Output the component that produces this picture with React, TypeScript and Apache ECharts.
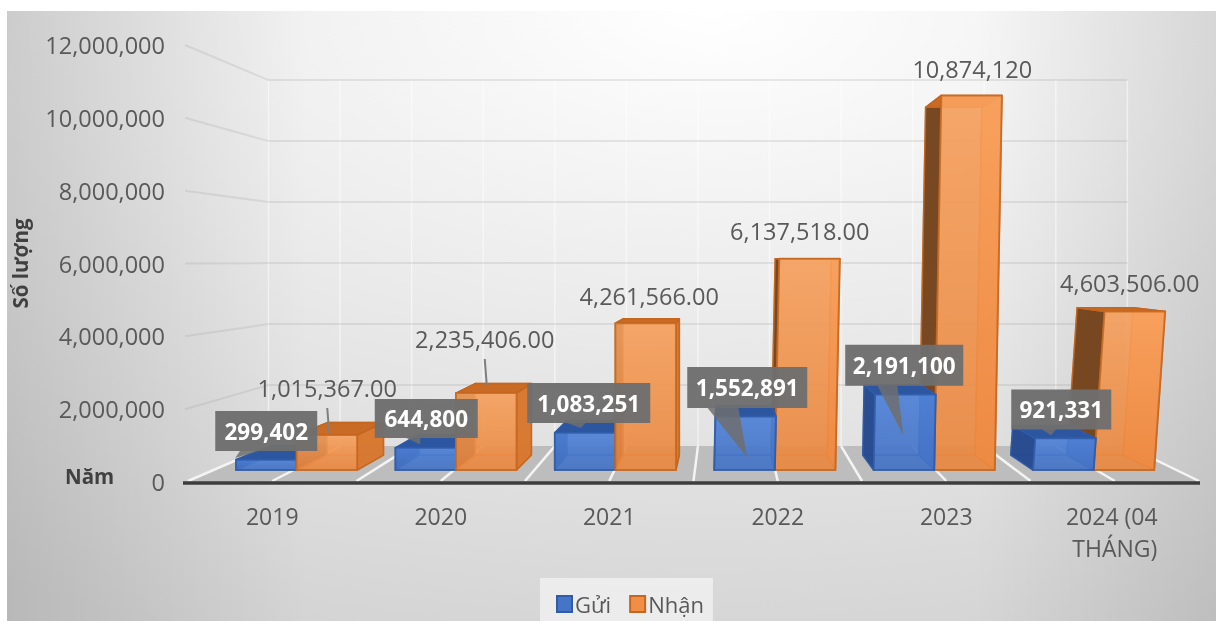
import React, { useEffect, useRef } from "react";
import * as echarts from "echarts";

// ---- data ----
const categories = ["2019", "2020", "2021", "2022", "2023", "2024 (04 THÁNG)"];
const sent = [299402, 644800, 1083251, 1552891, 2191100, 921331];
const received = [1015367, 2235406, 4261566, 6137518, 10874120, 4603506];
const receivedLabels = ["1,015,367.00", "2,235,406.00", "4,261,566.00", "6,137,518.00", "10,874,120", "4,603,506.00"];
const wallTicks = [0, 2000000, 4000000, 6000000, 8000000, 10000000, 12000000];

// ---- projection / layout (the image is a tilted 3D scene) ----
const VX = 723, VY = 261;      // vanishing point
const S_FRONT = 0.946, S_BACK = 0.878, S_WALL = 0.8375, S_WALL_X = 0.8495;
const BAR_FRAC = 0.38;         // bar width, in bands
const LEAN = [0, 0, 0, 2.1, 1.9, 6.9]; // px of horizontal lean per 100px of height
const BLUE_BOX: number[][] = [[-6, -40], [-14.5, -40], [-20.5, -39.5], [-30.5, -38], [-42, -37], [-53.5, -39]];
const BLUE_SIZE: number[][] = [[102, 40], [103, 39], [123, 40], [120, 41], [118, 41], [100, 40]];
const BLUE_PTR: number[][] = [[-26, -6, -31, 27], [-21, -6, -6, 26], [-23, -3, -8, 25], [-40, -9, 0, 70], [-27, -7, -1, 70], [-20, -5, -10, 26]];
const ORANGE_LABEL: number[][] = [[55, -57], [44, -61.6], [40, -31], [22, -27.5], [26, -17], [15, -31]];
const ORANGE_LEADER = [true, true, false, false, false, false];

const FONT = "'Open Sans', 'Noto Sans', sans-serif";
const TEXT = "#595959";
const BLUE = { edge: "#2F5BA8", front: ["#5286DD", "#4675C8"], top: "#2C56A0", left: "#264A8E", right: "#3A66B5", back: "#2F5BA8" };
const ORANGE = { edge: "#C4661F", front: ["#FFA966", "#F28D45"], top: "#C96A25", left: "#73431E", right: "#D9782F", back: "#B0601F" };

function project(x: number, y: number, s: number, base: number, lean: number) {
  const px = VX + (x - VX) * s;
  const py = VY + (y - VY) * s;
  const basePy = VY + (base - VY) * s;
  return [px + (lean * (basePy - py)) / 100, py];
}

function barFaces(api: any, i: number, value: number, side: number, pal: any, z: number) {
  const c0 = api.coord([i, 0]);
  const c1 = api.coord([i, value]);
  const w = api.size([1, 0])[0] * BAR_FRAC;
  const xa = side < 0 ? c0[0] - w : c0[0];
  const xb = xa + w;
  const p = (x: number, y: number, s: number) => project(x, y, s, c0[1], LEAN[i]);
  const fbl = p(xa, c0[1], S_FRONT), fbr = p(xb, c0[1], S_FRONT), ftl = p(xa, c1[1], S_FRONT), ftr = p(xb, c1[1], S_FRONT);
  const bbl = p(xa, c0[1], S_BACK), bbr = p(xb, c0[1], S_BACK), btl = p(xa, c1[1], S_BACK), btr = p(xb, c1[1], S_BACK);
  const face = (points: number[][], fill: any, opacity: number, zz: number, lw = 1.5) => ({
    type: "polygon", z2: z + zz, shape: { points },
    style: { fill, opacity, stroke: pal.edge, lineWidth: lw, lineJoin: "round" }, silent: true,
  });
  const frontFill = new echarts.graphic.LinearGradient(0, 0, 0, 1, [{ offset: 0, color: pal.front[0] }, { offset: 1, color: pal.front[1] }]);
  return [
    face([bbl, bbr, btr, btl], pal.back, 0.6, 0, 1.5),
    face([fbl, fbr, bbr, bbl], pal.back, 0.6, 0.1, 1.5),
    face([fbl, ftl, btl, bbl], pal.left, 0.95, 0.2),
    face([fbr, ftr, btr, bbr], pal.right, 0.95, 0.3),
    face([ftl, ftr, btr, btl], pal.top, 1, 0.4),
    face([fbl, fbr, ftr, ftl], frontFill, 0.8, 0.5, 2),
  ];
}

function renderScene(_: any, api: any) {
  const band = api.size([1, 0])[0];
  const y0 = api.coord([0, 0])[1];
  const xStart = api.coord([0, 0])[0] - band / 2;
  const xEnd = xStart + band * categories.length;
  const wall = (x: number, y: number) => [VX + (x - VX) * S_WALL_X, VY + (y - VY) * S_WALL];
  const children: any[] = [];
  // floor
  children.push({
    type: "polygon", z2: 1, silent: true,
    shape: { points: [[xStart, y0], [xEnd, y0], wall(xEnd, y0), wall(xStart, y0)] },
    style: { fill: "#BDBDBD" },
  });
  // vertical wall lines and floor lines at each half band
  for (let k = 0; k <= categories.length * 2; k++) {
    const x = xStart + (k * band) / 2;
    const top = wall(x, api.coord([0, wallTicks[wallTicks.length - 1]])[1]);
    const bot = wall(x, y0);
    children.push({ type: "line", z2: 2, silent: true, shape: { x1: top[0], y1: top[1], x2: bot[0], y2: bot[1] }, style: { stroke: "rgba(255,255,255,0.5)", lineWidth: 1.5 } });
    children.push({ type: "line", z2: 2, silent: true, shape: { x1: bot[0], y1: bot[1], x2: x, y2: y0 - 1 }, style: { stroke: "#F4F4F4", lineWidth: 2.5 } });
  }
  // horizontal wall lines with their left side runs
  wallTicks.forEach((t, idx) => {
    if (idx === 0) return;
    const y = api.coord([0, t])[1];
    const a = wall(xStart, y), b = wall(xEnd, y);
    children.push({ type: "polyline", z2: 3, silent: true, shape: { points: [[xStart - 3, y], a, b] }, style: { fill: "none", stroke: "rgba(150,150,150,0.2)", lineWidth: 2 } });
  });
  // floor's front edge, a little wider than the plot
  children.push({ type: "line", z2: 4, silent: true, shape: { x1: xStart - 5, y1: y0 + 1, x2: xEnd + 1, y2: y0 + 1 }, style: { stroke: "#3D3D3D", lineWidth: 3.5 } });
  return { type: "group", children };
}

function renderSent(_: any, api: any) {
  const i = api.value(0), v = api.value(1);
  const pos = api.coord([i, v]);
  const band = api.coord([i, 0])[0];
  const z = i >= 3 ? 40 : 20;
  const cx = band + BLUE_BOX[i][0], cy = pos[1] + BLUE_BOX[i][1];
  const [bw, bh] = BLUE_SIZE[i];
  const ptr = BLUE_PTR[i];
  const fill = "#6E6E6E";
  return {
    type: "group",
    children: [
      ...barFaces(api, i, v, -1, BLUE, z),
      { type: "rect", z2: 100, silent: true, shape: { x: cx - bw / 2, y: cy - bh / 2, width: bw, height: bh }, style: { fill, opacity: 0.97 } },
      { type: "polygon", z2: 100, silent: true, shape: { points: [[cx + ptr[0], cy + bh / 2 - 0.5], [cx + ptr[1], cy + bh / 2 - 0.5], [cx + ptr[2], cy + ptr[3]]] }, style: { fill, opacity: 0.85 } },
      { type: "text", z2: 101, silent: true, style: { text: v.toLocaleString("en-US"), x: cx, y: cy, align: "center", verticalAlign: "middle", fill: "#FFFFFF", fontFamily: FONT, fontWeight: "bold", fontSize: 22.5 } },
    ],
  };
}

function renderReceived(_: any, api: any) {
  const i = api.value(0), v = api.value(1);
  const pos = api.coord([i, v]);
  const cx0 = api.coord([i, 0])[0];
  const lx = cx0 + ORANGE_LABEL[i][0], ly = pos[1] + ORANGE_LABEL[i][1];
  const children: any[] = barFaces(api, i, v, 1, ORANGE, 30);
  if (ORANGE_LEADER[i]) {
    children.push({ type: "line", z2: 90, silent: true, shape: { x1: lx, y1: ly + 20, x2: lx + 2, y2: ly + 46 }, style: { stroke: "#7F7F7F", lineWidth: 2 } });
  }
  children.push({ type: "text", z2: 90, silent: true, style: { text: receivedLabels[i], x: lx, y: ly, align: "center", verticalAlign: "middle", fill: TEXT, fontFamily: FONT, fontSize: 23.5 } });
  return { type: "group", children };
}

export default function App() {
  const ref = useRef<HTMLDivElement>(null);
  useEffect(() => {
    const chart = echarts.init(ref.current!, undefined, { renderer: "svg" });
    chart.setOption({
      animation: false,
      backgroundColor: "#FFFFFF",
      graphic: [{
        type: "rect", z: -10, silent: true,
        shape: { x: 7, y: 11, width: 1209, height: 610 },
        style: { fill: new echarts.graphic.RadialGradient(0.58, 0, 1.1, [
          { offset: 0, color: "#FFFFFF" }, { offset: 0.5, color: "#E9E9E9" }, { offset: 1, color: "#D2D2D2" },
        ]) },
      }, {
        type: "rect", z: -9, silent: true,
        shape: { x: 7, y: 11, width: 1209, height: 610 },
        style: { fill: new echarts.graphic.LinearGradient(0, 0, 1, 0, [
          { offset: 0, color: "rgba(0,0,0,0.12)" }, { offset: 0.25, color: "rgba(0,0,0,0)" },
          { offset: 0.8, color: "rgba(0,0,0,0)" }, { offset: 1, color: "rgba(0,0,0,0.1)" },
        ]) },
      }, {
        type: "text", left: 65, top: 465, silent: true, z: 5,
        style: { text: "Năm", fill: "#404040", fontFamily: FONT, fontWeight: "bold", fontSize: 20.5 },
      }],
      grid: { left: 188, top: 45, width: 1011, height: 437 },
      legend: {
        left: 540, top: 578, padding: [15, 9, 9, 16], itemGap: 18, itemWidth: 15, itemHeight: 16,
        backgroundColor: "rgba(245,245,245,0.7)",
        textStyle: { color: TEXT, fontFamily: FONT, fontSize: 22, padding: [0, 0, 0, -2] },
        selectedMode: false,
        data: [
          { name: "Gửi", icon: "rect", itemStyle: { color: "#4675C8", borderColor: "#2F5BA8", borderWidth: 2 } },
          { name: "Nhận", icon: "rect", itemStyle: { color: "#F28D45", borderColor: "#C4661F", borderWidth: 2 } },
        ],
      },
      xAxis: {
        type: "category", data: categories,
        axisLine: { show: false }, axisTick: { show: false },
        axisLabel: { interval: 0, color: TEXT, fontFamily: FONT, fontSize: 23, margin: 18, lineHeight: 32, width: 140, overflow: "break" },
      },
      yAxis: {
        type: "value", min: 0, max: 12000000, interval: 2000000,
        name: "Số lượng", nameLocation: "middle", nameRotate: 90, nameGap: 158,
        nameTextStyle: { color: "#404040", fontFamily: FONT, fontWeight: "bold", fontSize: 20.5 },
        axisLine: { show: false }, axisTick: { show: false }, splitLine: { show: false },
        axisLabel: { color: TEXT, fontFamily: FONT, fontSize: 23.5, margin: 23, formatter: (v: number) => v.toLocaleString("en-US") },
      },
      series: [
        { type: "custom", name: "scene", z: 1, silent: true, renderItem: renderScene, data: [[0, 0]] },
        { type: "custom", name: "Gửi", z: 2, silent: true, renderItem: renderSent, encode: { x: 0, y: 1 }, data: sent.map((v, i) => [i, v]) },
        { type: "custom", name: "Nhận", z: 2, silent: true, renderItem: renderReceived, encode: { x: 0, y: 1 }, data: received.map((v, i) => [i, v]) },
      ],
    });
    return () => chart.dispose();
  }, []);
  return <div ref={ref} style={{ position: "fixed", left: 0, top: 0, width: 1216, height: 621, filter: "blur(0.5px)" }} />;
}
